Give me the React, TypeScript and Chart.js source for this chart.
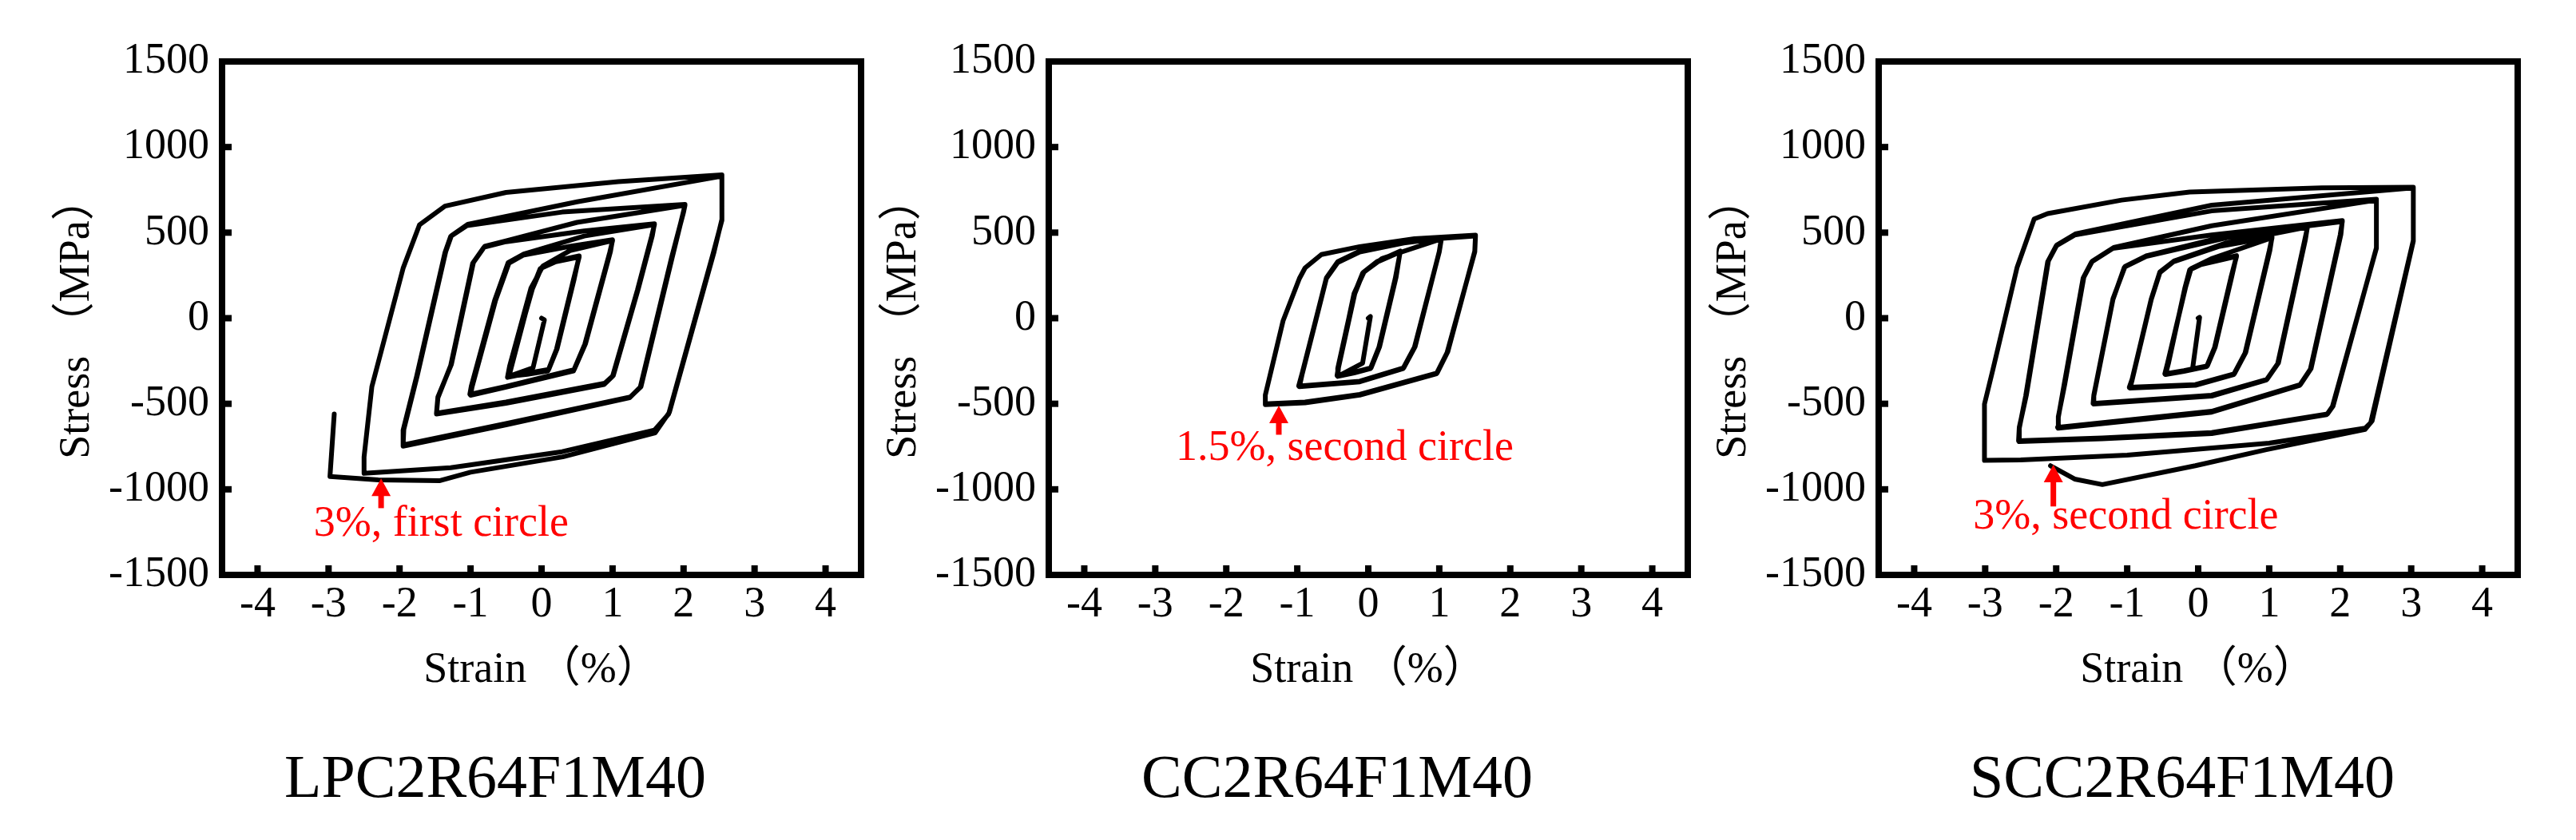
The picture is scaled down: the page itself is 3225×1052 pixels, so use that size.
import React, { useEffect, useRef } from "react";
import { Chart, registerables } from "chart.js";

Chart.register(...registerables);

// ---------------- data ----------------
const xTickValues = [-4, -3, -2, -1, 0, 1, 2, 3, 4];
const yTickValues = [-1500, -1000, -500, 0, 500, 1000, 1500];
const xRange = [-4.5, 4.5];
const yRange = [-1500, 1500];

const panelTitles = ["LPC2R64F1M40", "CC2R64F1M40", "SCC2R64F1M40"];
const xAxisTitle = "Strain （%）";
const yAxisTitle = "Stress （MPa）";

// [strain %, stress MPa] hysteresis path, LPC2R64F1M40
const lpcLoop: [number, number][] = [
  [0, 0], [0.04, -10], [-0.12, -290], [-0.46, -340],
  [-0.42, -277], [-0.14, 164], [-0.02, 289], [0.2, 330], [0.53, 358], [0.45, 226], [0.21, -182], [0.09, -308], [-0.2, -328], [-0.46, -340],
  [-0.43, -270], [-0.13, 170], [0.0, 296], [0.22, 336], [0.53, 364], [0.46, 230], [0.22, -178], [0.1, -300], [-0.2, -322], [-0.48, -346],
  [-0.45, -280], [-0.15, 175], [0.02, 305], [0.4, 395], [1.0, 453], [0.96, 384], [0.61, -151], [0.45, -308], [-0.5, -403], [-1.0, -450],
  [-0.98, -403], [-0.65, 101], [-0.46, 321], [-0.26, 368], [0.4, 420], [1.0, 458], [0.97, 388], [0.62, -148], [0.46, -300], [-0.5, -398], [-1.01, -445],
  [-0.99, -398], [-0.66, 105], [-0.47, 325], [-0.25, 375], [0.6, 480], [1.59, 547], [1.55, 478], [1.35, 164], [1.0, -340], [0.88, -387], [-0.5, -497], [-1.48, -560],
  [-1.46, -465], [-1.28, -277], [-0.97, 321], [-0.81, 415], [-0.5, 447], [0.6, 510], [1.59, 552], [1.56, 482], [1.36, 168], [1.01, -335], [0.89, -380], [-0.5, -490], [-1.48, -555],
  [-1.46, -460], [-1.27, -270], [-0.96, 325], [-0.8, 420], [-0.5, 452], [0.5, 560], [2.02, 660], [2.0, 620], [1.83, 352], [1.39, -403], [1.24, -465], [-0.5, -623], [-1.95, -748],
  [-1.95, -654], [-1.76, -340], [-1.36, 384], [-1.28, 478], [-1.05, 541], [0.29, 620], [2.02, 665], [2.0, 625], [1.84, 355], [1.4, -400], [1.25, -460], [-0.5, -615], [-1.95, -740],
  [-1.94, -650], [-1.75, -335], [-1.35, 388], [-1.27, 482], [-1.04, 548], [0.5, 680], [2.54, 830], [2.54, 572], [2.42, 384], [1.79, -560], [1.59, -654], [0.29, -780], [-1.28, -874], [-2.5, -906],
  [-2.5, -811], [-2.39, -400], [-1.95, 292], [-1.72, 545], [-1.36, 655], [-0.5, 735], [1.08, 798], [2.54, 838], [2.54, 578], [2.43, 388], [1.8, -550], [1.6, -670], [0.3, -810], [-1.0, -900], [-1.44, -950], [-2.3, -945], [-2.98, -925], [-2.92, -560],
];

// CC2R64F1M40
const ccLoop: [number, number][] = [
  [0, 0], [0.03, 10], [-0.08, -263], [-0.43, -340],
  [-0.43, -294], [-0.2, 139], [-0.08, 263], [0.11, 325], [0.45, 387], [0.38, 232], [0.15, -170], [0.03, -294], [-0.2, -320], [-0.43, -340],
  [-0.42, -290], [-0.19, 143], [-0.07, 268], [0.12, 330], [0.45, 392], [0.39, 236], [0.16, -166], [0.04, -290], [-0.2, -316], [-0.44, -336],
  [-0.42, -285], [-0.2, 145], [-0.06, 270], [0.2, 350], [1.03, 464], [1.0, 387], [0.65, -170], [0.49, -294], [-0.12, -372], [-0.97, -400],
  [-0.93, -325], [-0.74, -15], [-0.59, 232], [-0.43, 325], [-0.12, 387], [0.5, 440], [1.03, 468], [1.0, 390], [0.66, -166], [0.5, -290], [-0.12, -368], [-0.98, -396],
  [-0.93, -320], [-0.74, -10], [-0.59, 236], [-0.43, 330], [-0.12, 392], [0.65, 455], [1.51, 480], [1.5, 387], [1.11, -201], [0.96, -325], [-0.12, -449], [-0.89, -495], [-1.45, -505],
  [-1.45, -449], [-1.2, -15], [-0.97, 232], [-0.89, 294], [-0.66, 372], [-0.12, 418], [0.65, 464], [1.51, 485], [1.5, 392], [1.12, -196], [0.97, -320], [-0.12, -445], [-0.89, -490], [-1.45, -500],
];

// SCC2R64F1M40
const sccLoop: [number, number][] = [
  [0, 0], [0.02, 5], [-0.08, -298], [-0.46, -329],
  [-0.42, -266], [-0.19, 172], [-0.12, 282], [0.04, 314], [0.54, 361], [0.46, 235], [0.23, -172], [0.12, -282], [-0.2, -310], [-0.46, -329],
  [-0.43, -262], [-0.18, 176], [-0.11, 286], [0.05, 318], [0.54, 366], [0.47, 238], [0.24, -168], [0.13, -278], [-0.2, -306], [-0.47, -325],
  [-0.43, -260], [-0.18, 178], [-0.1, 290], [0.2, 350], [1.04, 470], [1.0, 392], [0.66, -204], [0.5, -329], [-0.04, -392], [-0.96, -408],
  [-0.93, -361], [-0.66, 110], [-0.54, 266], [-0.35, 329], [0.3, 420], [1.04, 475], [1.01, 396], [0.67, -200], [0.51, -325], [-0.04, -388], [-0.97, -404],
  [-0.93, -356], [-0.66, 114], [-0.54, 270], [-0.34, 334], [0.4, 440], [1.54, 533], [1.5, 455], [1.12, -266], [0.96, -361], [0.19, -455], [-1.47, -502],
  [-1.47, -455], [-1.2, 110], [-1.04, 298], [-0.73, 361], [0.4, 470], [1.54, 538], [1.51, 459], [1.13, -262], [0.97, -357], [0.19, -450], [-1.48, -498],
  [-1.47, -450], [-1.2, 114], [-1.03, 302], [-0.72, 366], [0.4, 480], [2.03, 564], [2.0, 486], [1.58, -298], [1.43, -392], [0.19, -549], [-1.97, -643],
  [-1.97, -580], [-1.89, -392], [-1.62, 235], [-1.5, 329], [-1.2, 408], [0.19, 486], [2.03, 570], [2.01, 490], [1.59, -294], [1.44, -388], [0.19, -544], [-1.98, -638],
  [-1.97, -575], [-1.88, -388], [-1.61, 240], [-1.49, 334], [-1.19, 413], [0.19, 540], [2.51, 690], [2.51, 408], [1.89, -517], [1.81, -564], [0.19, -674], [-1.35, -705], [-2.52, -721],
  [-2.52, -643], [-2.43, -455], [-2.12, 329], [-2.0, 423], [-1.74, 486], [0.19, 627], [2.51, 695], [2.51, 412], [1.9, -513], [1.82, -560], [0.19, -668], [-1.35, -700], [-2.53, -716],
  [-2.52, -638], [-2.42, -450], [-2.11, 334], [-1.99, 428], [-1.73, 492], [0.19, 660], [3.03, 762], [3.03, 455], [2.43, -611], [2.35, -643], [1.0, -730], [-1.0, -800], [-2.5, -828], [-3.01, -831],
  [-3.01, -502], [-2.89, -298], [-2.55, 298], [-2.31, 580], [-2.12, 611], [-1.08, 690], [-0.12, 737], [1.74, 762], [3.03, 765], [3.03, 450], [2.45, -600], [2.35, -650], [0.96, -768], [-0.04, -862], [-1.35, -972], [-1.74, -940], [-2.08, -862],
];

const panelLoops = [lpcLoop, ccLoop, sccLoop];

// red annotations (data coordinates)
const noteTexts = ["3%, first circle", "1.5%, second circle", "3%, second circle"];
const noteTextStrain = [-3.21, -2.71, -3.17];
const noteTextStress = [-1270, -827, -1229];
const arrowStrain = [-2.26, -1.26, -2.04];
const arrowTipStress = [-937, -511, -856];
const arrowTailStress = [-1110, -681, -1100];

// ---------------- layout ----------------
const HEIGHT = 1052;
const AREA_TOP = 77;
const AREA_BOTTOM = 720;
const panelLayouts = [
  { canvasLeft: 0, width: 1100, areaLeft: 278, areaRight: 1078, titleCenter: 620 },
  { canvasLeft: 1060, width: 1090, areaLeft: 1313, areaRight: 2113, titleCenter: 1674 },
  { canvasLeft: 2110, width: 1115, areaLeft: 2352, areaRight: 3152, titleCenter: 2732 },
];
const SERIF = "'Liberation Serif', 'Noto Sans CJK SC', serif";
const FONT_SIZE = 54;

function Panel({ idx }: { idx: number }) {
  const ref = useRef<HTMLCanvasElement | null>(null);
  const L = panelLayouts[idx];

  useEffect(() => {
    const canvas = ref.current;
    if (!canvas) return;
    const yScaleWidth = L.areaLeft - L.canvasLeft;
    const yTitleCenter = yScaleWidth - 181;
    const lineH = FONT_SIZE * 1.2;

    const decor = {
      id: "frameAndNotes",
      afterDraw(chart: any) {
        const { ctx, chartArea: a, scales } = chart;
        const xs = scales.x;
        const ys = scales.y;
        ctx.save();
        ctx.fillStyle = "#000";
        xTickValues.forEach((v) => {
          const px = xs.getPixelForValue(v);
          ctx.fillRect(px - 4, a.bottom - 12, 8, 12);
        });
        yTickValues
          .filter((v) => v > yRange[0] && v < yRange[1])
          .forEach((v) => {
            const py = ys.getPixelForValue(v);
            ctx.fillRect(a.left, py - 4, 12, 8);
          });
        ctx.strokeStyle = "#000";
        ctx.lineWidth = 8;
        ctx.lineJoin = "miter";
        ctx.strokeRect(a.left, a.top, a.right - a.left, a.bottom - a.top);

        // red arrow
        const ax = xs.getPixelForValue(arrowStrain[idx]);
        const tip = ys.getPixelForValue(arrowTipStress[idx]);
        const tail = ys.getPixelForValue(arrowTailStress[idx]);
        ctx.fillStyle = "#ff0000";
        ctx.beginPath();
        ctx.moveTo(ax, tip);
        ctx.lineTo(ax - 12, tip + 22);
        ctx.lineTo(ax + 12, tip + 22);
        ctx.closePath();
        ctx.fill();
        ctx.fillRect(ax - 3.5, tip + 18, 7, tail - tip - 18);

        // red text
        ctx.font = `${FONT_SIZE}px ${SERIF}`;
        ctx.textAlign = "left";
        ctx.textBaseline = "alphabetic";
        ctx.fillText(
          noteTexts[idx],
          xs.getPixelForValue(noteTextStrain[idx]),
          ys.getPixelForValue(noteTextStress[idx])
        );
        ctx.restore();
      },
    };

    const tickFont = { family: SERIF, size: FONT_SIZE, lineHeight: 1.2 };

    const chart = new Chart(canvas, {
      type: "scatter",
      data: {
        datasets: [
          {
            data: panelLoops[idx].map(([x, y]) => ({ x, y })),
            showLine: true,
            borderColor: "#000",
            backgroundColor: "#000",
            borderWidth: 6,
            pointRadius: 0,
            tension: 0,
            borderJoinStyle: "round",
            borderCapStyle: "round",
            fill: false,
          },
        ],
      },
      options: {
        animation: false,
        responsive: false,
        devicePixelRatio: 1,
        events: [],
        layout: {
          padding: {
            left: 0,
            top: AREA_TOP,
            right: L.width - (L.areaRight - L.canvasLeft),
            bottom: 0,
          },
        },
        plugins: {
          legend: { display: false },
          tooltip: { enabled: false },
          title: { display: false },
        },
        scales: {
          x: {
            type: "linear",
            min: xRange[0],
            max: xRange[1],
            grid: { display: false, drawTicks: false },
            border: { display: false },
            afterBuildTicks: (scale: any) => {
              scale.ticks = xTickValues.map((v) => ({ value: v }));
            },
            afterFit: (scale: any) => {
              scale.height = HEIGHT - AREA_BOTTOM;
            },
            ticks: {
              includeBounds: false,
              autoSkip: false,
              maxRotation: 0,
              padding: 5,
              color: "#000",
              font: tickFont,
              callback: (v: any) => String(v),
            },
            title: {
              display: true,
              text: xAxisTitle,
              color: "#000",
              font: { family: SERIF, size: FONT_SIZE, lineHeight: 1.2 },
              padding: { top: 0, bottom: HEIGHT - 840 - lineH / 2 },
            },
          },
          y: {
            type: "linear",
            min: yRange[0],
            max: yRange[1],
            grid: { display: false, drawTicks: false },
            border: { display: false },
            afterBuildTicks: (scale: any) => {
              scale.ticks = yTickValues.map((v) => ({ value: v }));
            },
            afterFit: (scale: any) => {
              scale.width = yScaleWidth;
            },
            ticks: {
              includeBounds: false,
              autoSkip: false,
              padding: 16,
              color: "#000",
              font: tickFont,
              callback: (v: any) => String(v),
            },
            title: {
              display: true,
              text: yAxisTitle,
              color: "#000",
              font: { family: SERIF, size: FONT_SIZE, lineHeight: 1.2 },
              padding: { top: yTitleCenter - lineH / 2, bottom: 0 },
            },
          },
        },
      },
      plugins: [decor],
    } as any);

    return () => chart.destroy();
  }, [idx]);

  return (
    <canvas
      ref={ref}
      width={L.width}
      height={HEIGHT}
      style={{ position: "absolute", left: L.canvasLeft, top: 0, width: L.width, height: HEIGHT }}
    />
  );
}

export default function App() {
  useEffect(() => {
    document.body.style.margin = "0";
    document.body.style.overflow = "hidden";
  }, []);
  return (
    <div
      style={{
        position: "absolute",
        left: 0,
        top: 0,
        width: 3225,
        height: HEIGHT,
        background: "#fff",
        overflow: "hidden",
      }}
    >
      {panelLayouts.map((_, i) => (
        <Panel key={i} idx={i} />
      ))}
      {panelLayouts.map((L, i) => (
        <div
          key={"t" + i}
          style={{
            position: "absolute",
            left: L.titleCenter - 400,
            width: 800,
            top: 934,
            textAlign: "center",
            fontFamily: SERIF,
            fontSize: 76,
            lineHeight: "76px",
            color: "#000",
            whiteSpace: "nowrap",
          }}
        >
          {panelTitles[i]}
        </div>
      ))}
    </div>
  );
}
